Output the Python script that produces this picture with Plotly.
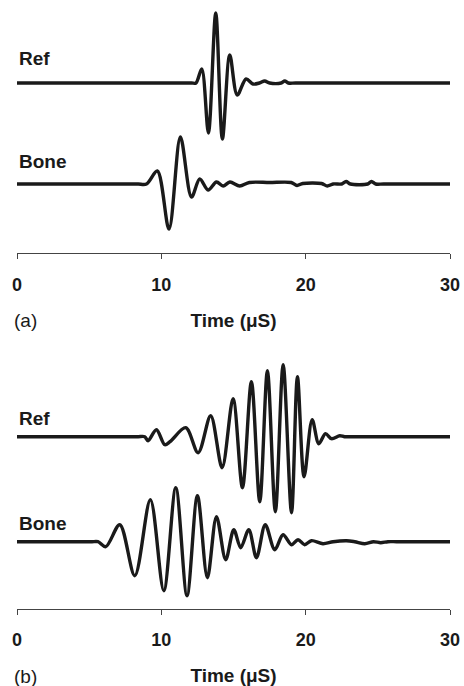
import plotly.graph_objects as go

# ---- data (time in microseconds, amplitude in arbitrary units) ----
ref_a_t = [0, 4, 8, 11.6, 12.1, 12.40, 12.80, 13.26, 13.77, 14.23, 14.74, 15.26, 15.87, 16.35, 16.8, 17.16,
           17.5, 18.3, 18.55, 18.8, 19.3, 24, 30]
ref_a_y = [0, 0, 0, 0, 0, 0, 14, -50, 70, -56, 28, -12, 4, -1, 0, 2,
           0, 0, 2, 0, 0, 0, 0]

bone_a_t = [0, 4, 7.8, 8.4, 8.97, 9.72, 10.53, 11.32, 12.09, 12.66, 13.24, 13.82, 14.28, 14.75, 15.43, 16.1,
            17.5, 19.0, 19.4, 19.8, 21.1, 21.5, 21.9, 22.5, 22.8, 23.1, 24.3, 24.56, 24.85, 25.4, 28, 30]
bone_a_y = [0, 0, 0, 0, 0, 13, -45, 47, -13, 5, -6, 2, -2, 2, -2, 1.5,
            1.5, 1.5, -1.5, 0.5, 0.5, -2, 0, 0, 2.5, 0, 0, 2.5, 0, 0, 0, 0]

ref_b_t = [0, 4, 7.8, 8.4, 8.85, 9.08, 9.66, 10.24, 10.6, 11.69, 12.55, 13.42, 14.21, 14.97, 15.62, 16.24, 16.82,
           17.35, 17.9, 18.44, 19.02, 19.43, 19.89, 20.45, 20.91, 21.37, 21.79, 22.36, 22.7, 23.3, 27, 30]
ref_b_y = [0, 0, 0, 0, 0, -4, 7, -8, -5, 9, -16, 21, -31, 38, -51, 55, -65,
           66, -75, 72, -76, 60, -40, 17, -7, 3, -2, 1, 0, 0, 0, 0]

bone_b_t = [0, 3, 4.6, 5.2, 5.61, 6.15, 7.12, 8.16, 9.24, 10.17, 11.0, 11.78, 12.5, 13.19, 13.82, 14.46, 15.02, 15.5,
            16.06, 16.59, 17.2, 17.86, 18.43, 19.02, 19.47, 19.93, 20.4, 21.2, 21.9, 22.83, 23.4, 24.1,
            24.7, 25.2, 25.7, 26.3, 28, 30]
bone_b_y = [0, 0, 0, 0, 0, -5, 17, -34, 42, -49, 54, -54, 46, -36, 25, -18, 12, -6,
            12, -16, 17, -8, 7, -3, 2, -3, 1, -2, 0, 1, 0, -2,
            0, -1, 0, 0, 0, 0]

tick_vals = [0, 10, 20, 30]
axis_title = "Time (μS)"
panel_labels = ["(a)", "(b)"]
trace_names = ["Ref", "Bone"]

# ---- layout constants ----
W, H = 464, 686
REF_OFFSET_A = 101
REF_OFFSET_B = 105
LINE = dict(color="#1a1a1a", width=3.4, shape="spline", smoothing=0.9)
FONT = "Liberation Sans, Arial, sans-serif"

fig = go.Figure()
fig.add_trace(go.Scatter(x=ref_a_t, y=[v + REF_OFFSET_A for v in ref_a_y], mode="lines",
                         line=LINE, xaxis="x", yaxis="y", name="Ref"))
fig.add_trace(go.Scatter(x=bone_a_t, y=bone_a_y, mode="lines",
                         line=LINE, xaxis="x", yaxis="y", name="Bone"))
fig.add_trace(go.Scatter(x=ref_b_t, y=[v + REF_OFFSET_B for v in ref_b_y], mode="lines",
                         line=LINE, xaxis="x2", yaxis="y2", name="Ref"))
fig.add_trace(go.Scatter(x=bone_b_t, y=bone_b_y, mode="lines",
                         line=LINE, xaxis="x2", yaxis="y2", name="Bone"))

xcommon = dict(range=[0, 30], tickvals=tick_vals, showline=True, linecolor="#444", linewidth=1,
               ticks="outside", ticklen=5, tickcolor="#444", tickwidth=1, showgrid=False, zeroline=False,
               tickfont=dict(family=FONT, size=18, color="#1a1a1a", weight="bold"),
               ticklabelstandoff=10,
               title=dict(text=axis_title, font=dict(family=FONT, size=19, color="#1a1a1a", weight="bold"),
                          standoff=20))

fig.update_layout(
    width=W, height=H, showlegend=False,
    margin=dict(l=17, r=14, t=0, b=0),
    plot_bgcolor="white", paper_bgcolor="white",
    xaxis=dict(anchor="y", **xcommon),
    yaxis=dict(domain=[1 - 253 / H, 1.0], range=[-69, 184], visible=False, fixedrange=True),
    xaxis2=dict(anchor="y2", **xcommon),
    yaxis2=dict(domain=[1 - 608.5 / H, 1 - 345 / H], range=[-66.8, 196.7], visible=False, fixedrange=True),
)

ann_font = dict(family=FONT, size=19, color="#1a1a1a", weight="bold")
fig.add_annotation(text=trace_names[0], x=0, y=126, xref="x", yref="y", xanchor="left", yanchor="middle",
                   showarrow=False, font=ann_font)
fig.add_annotation(text=trace_names[1], x=0, y=23, xref="x", yref="y", xanchor="left", yanchor="middle",
                   showarrow=False, font=ann_font)
fig.add_annotation(text=trace_names[0], x=0, y=123.7, xref="x2", yref="y2", xanchor="left", yanchor="middle",
                   showarrow=False, font=ann_font)
fig.add_annotation(text=trace_names[1], x=0, y=18.7, xref="x2", yref="y2", xanchor="left", yanchor="middle",
                   showarrow=False, font=ann_font)

plab_font = dict(family=FONT, size=19, color="#1a1a1a")
fig.add_annotation(text=panel_labels[0], x=-0.012, y=1 - 320 / H, xref="paper", yref="paper",
                   xanchor="left", yanchor="middle", showarrow=False, font=plab_font)
fig.add_annotation(text=panel_labels[1], x=-0.012, y=1 - 676 / H, xref="paper", yref="paper",
                   xanchor="left", yanchor="middle", showarrow=False, font=plab_font)

fig.write_html("out.html", config={"displayModeBar": False},
               post_script="document.body.style.margin='0';document.body.style.overflow='hidden';")
